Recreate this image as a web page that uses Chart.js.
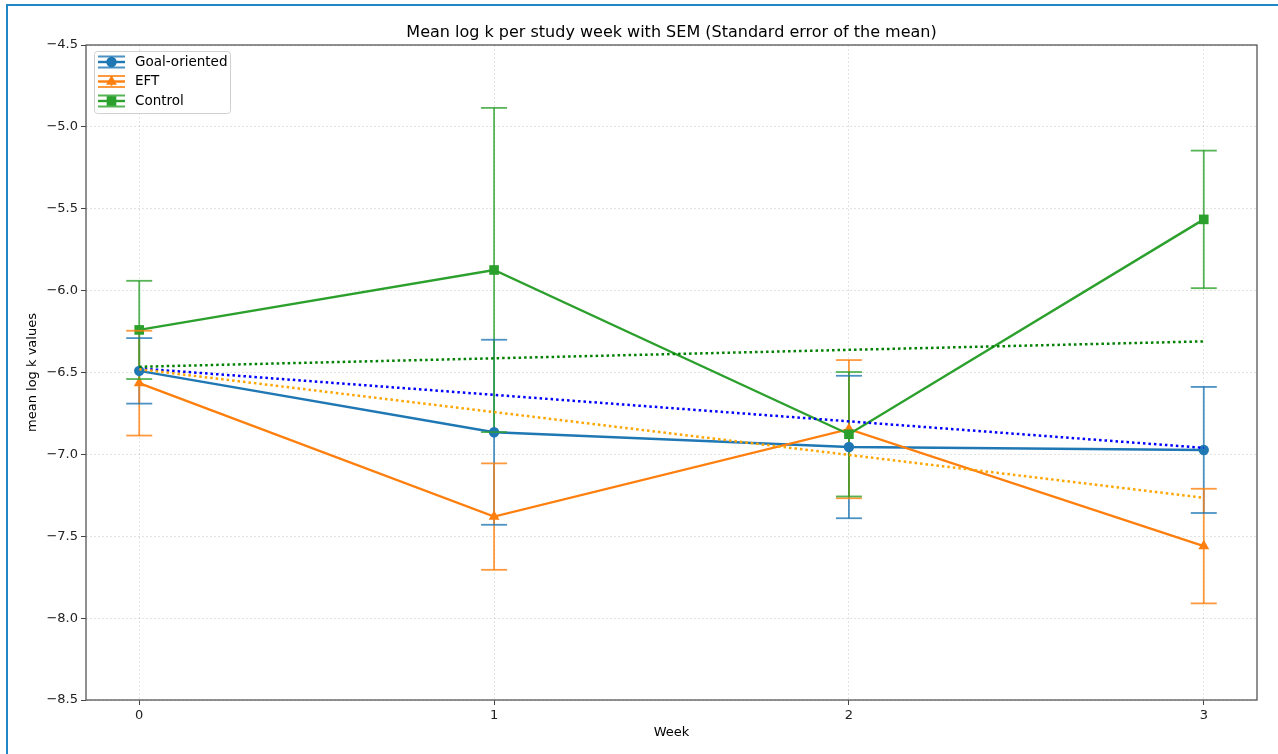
<!DOCTYPE html>
<html>
<head>
<meta charset="utf-8">
<script src="https://cdn.jsdelivr.net/npm/chart.js@4"></script>
<style>
    html, body { margin: 0; padding: 0; background: #fff; }
    #wrap { position: relative; width: 1278px; height: 754px; }
    #edge {
        position: absolute; left: 6px; top: 4px; right: 0; bottom: 0;
        border-top: 2px solid #1f88c4; border-left: 2px solid #1f88c4;
    }
    #chart { position: absolute; left: 0; top: 0; }
</style>
</head>
<body>
<div id="wrap">
    <div id="edge"></div>
    <canvas id="chart" width="1278" height="754"></canvas>
</div>
<script>
// Data
const weeks = [0, 1, 2, 3];
const groupNames = ['Goal-oriented', 'EFT', 'Control'];

const goalMean = [-6.49, -6.865, -6.955, -6.973];
const goalSem = [0.20, 0.565, 0.435, 0.385];
const eftMean = [-6.565, -7.38, -6.846, -7.56];
const eftSem = [0.32, 0.325, 0.422, 0.35];
const controlMean = [-6.24, -5.874, -6.877, -5.565];
const controlSem = [0.30, 0.99, 0.38, 0.42];

// dotted trend lines, values at week 0 and week 3
const trendWeeks = [0, 3];
const goalTrend = [-6.475, -6.96];
const eftTrend = [-6.48, -7.265];
const controlTrend = [-6.465, -6.31];

const yTicks = [-8.5, -8.0, -7.5, -7.0, -6.5, -6.0, -5.5, -5.0, -4.5];
const chartTitle = 'Mean log k per study week with SEM (Standard error of the mean)';

const font = '"DejaVu Sans", sans-serif';
const colors = ['#1f77b4', '#ff7f0e', '#2ca02c'];
const barColors = ['rgba(31,119,180,0.8)', 'rgba(255,127,14,0.8)', 'rgba(44,160,44,0.8)'];
const trendColors = ['#0000ff', '#ffa500', '#008000'];
const markers = ['circle', 'triangle', 'rect'];
const markerSize = [5.2, 6.3, 6.8];

const means = [goalMean, eftMean, controlMean];
const sems = [goalSem, eftSem, controlSem];
const trends = [goalTrend, eftTrend, controlTrend];

const toXY = (xs, ys) => xs.map((x, i) => ({ x: x, y: ys[i] }));
const minus = s => String(s).replace('-', '\u2212');

let datasets = [];
means.forEach((m, i) => {
    datasets.push({
        label: groupNames[i],
        data: toXY(weeks, m),
        borderColor: colors[i],
        backgroundColor: colors[i],
        borderWidth: 2.4,
        pointStyle: markers[i],
        pointRadius: markerSize[i],
        pointBorderWidth: 0,
        pointHoverRadius: markerSize[i],
        tension: 0,
        order: 6 - i
    });
});
trends.forEach((t, i) => {
    datasets.push({
        label: 'trend ' + groupNames[i],
        data: toXY(trendWeeks, t),
        borderColor: trendColors[i],
        borderWidth: 2.5,
        borderDash: [2.5, 3],
        borderCapStyle: 'butt',
        pointRadius: 0,
        tension: 0,
        order: 3 - i
    });
});

/* Error bars: vertical lines under the series, caps on top */
const errorBars = {
    id: 'errorBars',
    beforeDatasetsDraw(chart) {
        const { ctx, scales: { x, y } } = chart;
        ctx.save();
        ctx.lineWidth = 1.8;
        means.forEach((m, i) => {
            ctx.strokeStyle = barColors[i];
            weeks.forEach((w, j) => {
                const px = x.getPixelForValue(w);
                ctx.beginPath();
                ctx.moveTo(px, y.getPixelForValue(m[j] + sems[i][j]));
                ctx.lineTo(px, y.getPixelForValue(m[j] - sems[i][j]));
                ctx.stroke();
            });
        });
        ctx.restore();
    },
    afterDatasetsDraw(chart) {
        const { ctx, scales: { x, y } } = chart;
        ctx.save();
        ctx.lineWidth = 1.8;
        means.forEach((m, i) => {
            ctx.strokeStyle = barColors[i];
            weeks.forEach((w, j) => {
                const px = x.getPixelForValue(w);
                [m[j] + sems[i][j], m[j] - sems[i][j]].forEach(v => {
                    const py = y.getPixelForValue(v);
                    ctx.beginPath();
                    ctx.moveTo(px - 13, py);
                    ctx.lineTo(px + 13, py);
                    ctx.stroke();
                });
            });
        });
        ctx.restore();
    }
};

/* Frame round the plot area and the title centred over it */
const frame = {
    id: 'frame',
    afterDatasetsDraw(chart) {
        const { ctx, chartArea: a } = chart;
        ctx.save();
        ctx.strokeStyle = '#555';
        ctx.lineWidth = 1.3;
        ctx.strokeRect(a.left, a.top, a.right - a.left, a.bottom - a.top);
        ctx.fillStyle = '#000';
        ctx.font = '16px ' + font;
        ctx.textAlign = 'center';
        ctx.textBaseline = 'middle';
        ctx.fillText(chartTitle, (a.left + a.right) / 2, a.top - 12);
        ctx.restore();
    }
};

/* Matplotlib style legend with errorbar glyphs */
const mplLegend = {
    id: 'mplLegend',
    afterDraw(chart) {
        const { ctx, chartArea: a } = chart;
        const bx = a.left + 8, by = a.top + 6, bw = 136, bh = 62;
        ctx.save();
        ctx.fillStyle = 'rgba(255,255,255,0.85)';
        ctx.strokeStyle = '#d0d0d0';
        ctx.lineWidth = 1;
        ctx.beginPath();
        ctx.roundRect(bx + 0.5, by + 0.5, bw, bh, 3);
        ctx.fill();
        ctx.stroke();
        groupNames.forEach((name, i) => {
            const cy = by + 11 + i * 19.5;
            const x0 = bx + 4, x1 = bx + 31, cx = (x0 + x1) / 2;
            ctx.strokeStyle = barColors[i];
            ctx.lineWidth = 1.8;
            ctx.beginPath();
            ctx.moveTo(x0, cy - 5.5); ctx.lineTo(x1, cy - 5.5);
            ctx.moveTo(x0, cy + 5.5); ctx.lineTo(x1, cy + 5.5);
            ctx.moveTo(cx, cy - 5.5); ctx.lineTo(cx, cy + 5.5);
            ctx.stroke();
            ctx.strokeStyle = colors[i];
            ctx.lineWidth = 2.4;
            ctx.beginPath();
            ctx.moveTo(x0, cy); ctx.lineTo(x1, cy);
            ctx.stroke();
            ctx.fillStyle = colors[i];
            Chart.helpers.drawPoint(ctx, { pointStyle: markers[i], radius: markerSize[i], borderWidth: 0 }, cx, cy);
            ctx.fillStyle = '#000';
            ctx.font = '13.5px ' + font;
            ctx.textBaseline = 'middle';
            ctx.fillText(name, bx + 41, cy);
        });
        ctx.restore();
    }
};

const gridStyle = {
    color: 'rgba(176,176,176,0.45)',
    lineWidth: 0.8,
    tickColor: '#444',
    tickLength: 5,
    tickWidth: 1,
    tickBorderDash: []
};

new Chart(document.getElementById('chart'), {
    type: 'line',
    data: { datasets: datasets },
    options: {
        responsive: false,
        devicePixelRatio: 1,
        animation: false,
        layout: { padding: { left: 8, right: 21, top: 45, bottom: 0 } },
        scales: {
            x: {
                type: 'linear',
                min: -0.15,
                max: 3.15,
                afterFit: s => { s.height = 54; },
                ticks: {
                    stepSize: 1,
                    includeBounds: false,
                    padding: 3,
                    color: '#222',
                    font: { family: font, size: 13 },
                    callback: v => Number.isInteger(v) ? String(v) : ''
                },
                grid: gridStyle,
                border: { display: false, dash: [2, 2] },
                title: {
                    display: true,
                    text: 'Week',
                    color: '#000',
                    font: { family: font, size: 13 },
                    padding: { top: 0, bottom: 14 }
                }
            },
            y: {
                min: -8.5,
                max: -4.5,
                afterFit: s => { s.width = 78; },
                afterBuildTicks: s => { s.ticks = yTicks.map(v => ({ value: v })); },
                ticks: {
                    padding: 3,
                    color: '#222',
                    font: { family: font, size: 13 },
                    callback: v => minus(v.toFixed(1))
                },
                grid: gridStyle,
                border: { display: false, dash: [2, 2] },
                title: {
                    display: true,
                    text: 'mean log k values',
                    color: '#000',
                    font: { family: font, size: 13 },
                    padding: { top: 17, bottom: 0 }
                }
            }
        },
        plugins: {
            legend: { display: false },
            tooltip: { enabled: false },
            title: { display: false }
        }
    },
    plugins: [errorBars, frame, mplLegend]
});
</script>
</body>
</html>
